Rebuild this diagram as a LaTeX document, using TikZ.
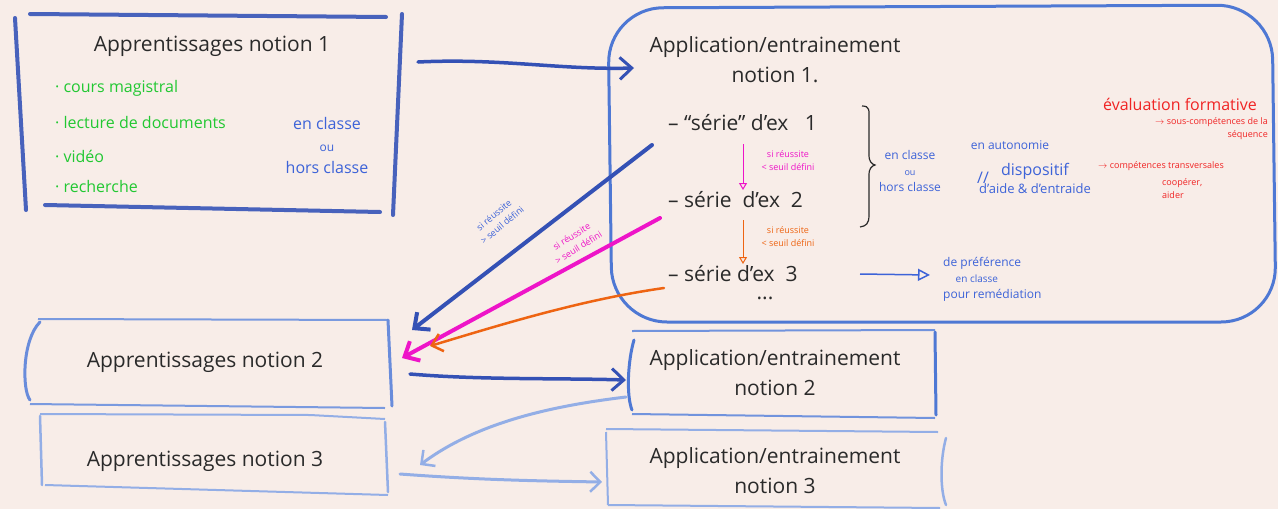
\documentclass[tikz,border=0pt]{standalone}
\usepackage{fontspec}
\setmainfont{Open Sans}
\usetikzlibrary{arrows.meta}
\definecolor{bg}{HTML}{F8EDE8}
\definecolor{dblue}{HTML}{3451B5}
\definecolor{mblue}{HTML}{4E78D4}
\definecolor{lblue}{HTML}{93AEE6}
\definecolor{tblue}{HTML}{3D63D8}
\definecolor{grn}{HTML}{22C832}
\definecolor{mag}{HTML}{EE14C8}
\definecolor{org}{HTML}{EE6412}
\definecolor{rd}{HTML}{F02424}
\definecolor{ink}{HTML}{2A2A2A}
\tikzset{
  big/.style={font=\fontsize{21}{30}\selectfont, text=ink, inner sep=0pt, align=center},
  mid/.style={font=\fontsize{16}{22}\selectfont, inner sep=0pt, align=center},
  sm/.style={font=\fontsize{12}{16}\selectfont, inner sep=0pt, align=center},
  tiny/.style={font=\fontsize{9}{13}\selectfont, inner sep=0pt, align=center},
  frame/.style={line width=4pt, line cap=round},
  conn/.style={line width=3.5pt, line cap=round, -{Straight Barb[length=12pt,width=22pt,line width=3pt]}},
  thinarr/.style={line width=1pt, -{Triangle[open,length=7pt,width=8pt]}},
}
\begin{document}
\begin{tikzpicture}[x=1pt,y=-1pt]
\fill[bg] (0,0) rectangle (1278,509);
\useasboundingbox (0,0) rectangle (1278,509);
% box 1
\draw[frame, dblue!90] (15,18) -- (26,210);
\draw[frame, dblue!90] (30,14) -- (386,17);
\draw[frame, dblue!90] (402,14) -- (393,215);
\draw[frame, dblue!90] (45,205) -- (380,212);
\node[big] (a1) at (212,46) {Apprentissages notion 1};
\node[mid, text=grn, anchor=west] (g1) at (55,88) {· cours magistral};
\node[mid, text=grn, anchor=west] (g2) at (55,122) {· lecture de documents};
\node[mid, text=grn, anchor=west] (g3) at (55,156) {· vidéo};
\node[mid, text=grn, anchor=west] (g4) at (55,186) {· recherche};
\node[mid, text=tblue] (c1) at (327,145) {en classe\\{\fontsize{12}{12}\selectfont ou}\\hors classe};
\coordinate (a1r) at (418,62);
% big rounded box
\draw[line width=3pt, mblue, rounded corners=55pt] (608,8) -- (1272,5) -- (1276,322) -- (612,322) -- cycle;
\node[big] (ap1) at (775,60) {Application/entrainement\\notion 1.};
\draw[conn, dblue] (a1r) .. controls (500,58) and (560,70) .. (634,68);
\node[big, anchor=west] (s1) at (668,123) {– “série” d’ex \ \ 1};
\node[big, anchor=west] (s2) at (668,200) {– série \ d’ex \ 2};
\node[big, anchor=west] (s3) at (668,274) {– série d’ex \ 3};
\node[big] (dots) at (765,298) {...};
\coordinate (m1a) at (743,144);
\coordinate (m1b) at (743,190);
\coordinate (o1a) at (743,220);
\coordinate (o1b) at (743,264);
\draw[thinarr, mag] (m1a) -- (m1b);
\draw[thinarr, org] (o1a) -- (o1b);
\node[tiny, text=mag] (r1) at (788,161) {si réussite\\< seuil défini};
\node[tiny, text=org] (r3) at (788,237) {si réussite\\< seuil défini};
% brace
\draw[line width=1.2pt, ink] (862,106) .. controls (870,106) and (869,110) .. (869,120) -- (869,155) .. controls (869,162) and (872,164) .. (875,165) .. controls (872,166) and (869,168) .. (869,175) -- (869,215) .. controls (869,224) and (866,226) .. (860,227);
\node[sm, text=tblue] (b1) at (910,171) {en classe\\{\fontsize{9}{9}\selectfont ou}\\hors classe};
\node[sm, text=tblue] (au) at (1010,145) {en autonomie};
\node[mid, text=tblue] (sl) at (983,178) {//};
\node[mid, text=tblue] (dp) at (1035,178) {dispositif\\[-4pt]{\fontsize{13}{13}\selectfont d’aide \& d’entraide}};
\node[mid, text=rd] (ev) at (1180,104) {évaluation formative};
\node[tiny, text=rd, align=right, anchor=north east] (e1) at (1268,117) {$\rightarrow$ sous-compétences de la\\séquence};
\node[tiny, text=rd, anchor=west] (e3) at (1098,166) {$\rightarrow$ compétences transversales};
\node[tiny, text=rd, align=left, anchor=north west] (e4) at (1162,178) {coopérer,\\aider};
\coordinate (s3r) at (860,274);
\coordinate (pr) at (930,275);
\draw[line width=1.5pt, tblue, -{Triangle[open,length=12pt,width=12pt,line width=1.5pt]}] (s3r) -- (pr);
\node[sm, text=tblue, align=left, anchor=west] (p1) at (943,279) {de préférence\\\ \ \ \ {\fontsize{10}{10}\selectfont en classe}\\pour remédiation};
% box 2
\draw[line width=3pt, mblue!85, line cap=round] (40,322) .. controls (22,340) and (22,390) .. (30,400);
\draw[line width=2pt, mblue!75] (38,319) -- (388,320);
\draw[line width=3pt, mblue!85, line cap=round] (388,320) -- (392,406);
\draw[line width=2pt, mblue!75] (30,404) -- (385,408);
\node[big] (a2) at (205,362) {Apprentissages notion 2};
% box 3
\draw[line width=2.5pt, lblue, line cap=round] (40,416) -- (42,485);
\draw[line width=2pt, lblue] (40,414) -- (310,415) -- (385,419);
\draw[line width=2.5pt, lblue, line cap=round] (385,422) -- (388,492);
\draw[line width=2pt, lblue] (45,485) -- (388,495);
\node[big] (a3) at (205,461) {Apprentissages notion 3};
% app 2
\draw[line width=3pt, mblue, line cap=round] (634,340) .. controls (628,360) and (626,395) .. (632,410);
\draw[line width=2pt, mblue!80] (632,331) -- (935,330);
\draw[line width=3pt, mblue, line cap=round] (935,332) -- (936,415);
\draw[line width=2pt, mblue!80] (632,414) -- (935,418);
\node[big] (ap2) at (775,373) {Application/entrainement\\notion 2};
% app 3
\draw[line width=2pt, lblue] (606,432) -- (608,505);
\draw[line width=2pt, lblue] (606,429) -- (938,432);
\draw[line width=2.5pt, lblue, line cap=round] (946,438) .. controls (940,460) and (940,490) .. (946,505);
\draw[line width=2pt, lblue] (608,505) -- (940,508);
\node[big] (ap3) at (775,471) {Application/entrainement\\notion 3};
% connectors between bottom boxes
\coordinate (a2r) at (410,374);
\coordinate (ap2l) at (626,380);
\draw[conn, dblue] (a2r) .. controls (480,380) and (560,378) .. (ap2l);
\coordinate (a3r) at (400,474);
\coordinate (ap3l) at (602,482);
\draw[line width=3pt, lblue, line cap=round, -{Straight Barb[length=10pt,width=20pt,line width=2.5pt]}] (a3r) .. controls (480,480) and (540,481) .. (ap3l);
\coordinate (ap2b) at (626,397);
\coordinate (a3l) at (420,465);
\draw[line width=3pt, lblue, line cap=round, -{Straight Barb[length=10pt,width=20pt,line width=2.5pt]}] (ap2b) .. controls (560,405) and (480,420) .. (a3l);
% diagonal returns
\coordinate (s1l) at (652,145);
\coordinate (a2tb) at (412,330);
\draw[line width=4pt, dblue, line cap=round, -{Straight Barb[length=12pt,width=22pt,line width=4pt]}] (s1l) -- (a2tb);
\coordinate (s2l) at (660,218);
\coordinate (a2tm) at (402,358);
\draw[line width=4pt, mag, line cap=round, -{Straight Barb[length=12pt,width=22pt,line width=4pt]}] (s2l) -- (a2tm);
\coordinate (s3l) at (664,288);
\coordinate (a2to) at (430,346);
\draw[line width=2.5pt, org, line cap=round, -{Straight Barb[length=10pt,width=18pt,line width=2.5pt]}] (s3l) .. controls (580,300) and (500,325) .. (a2to);
\node[tiny, text=tblue, rotate=40] (d1) at (498,220) {si réussite\\> seuil défini};
\node[tiny, text=mag, rotate=32] (d3) at (575,242) {si réussite\\> seuil défini};
\end{tikzpicture}
\end{document}
